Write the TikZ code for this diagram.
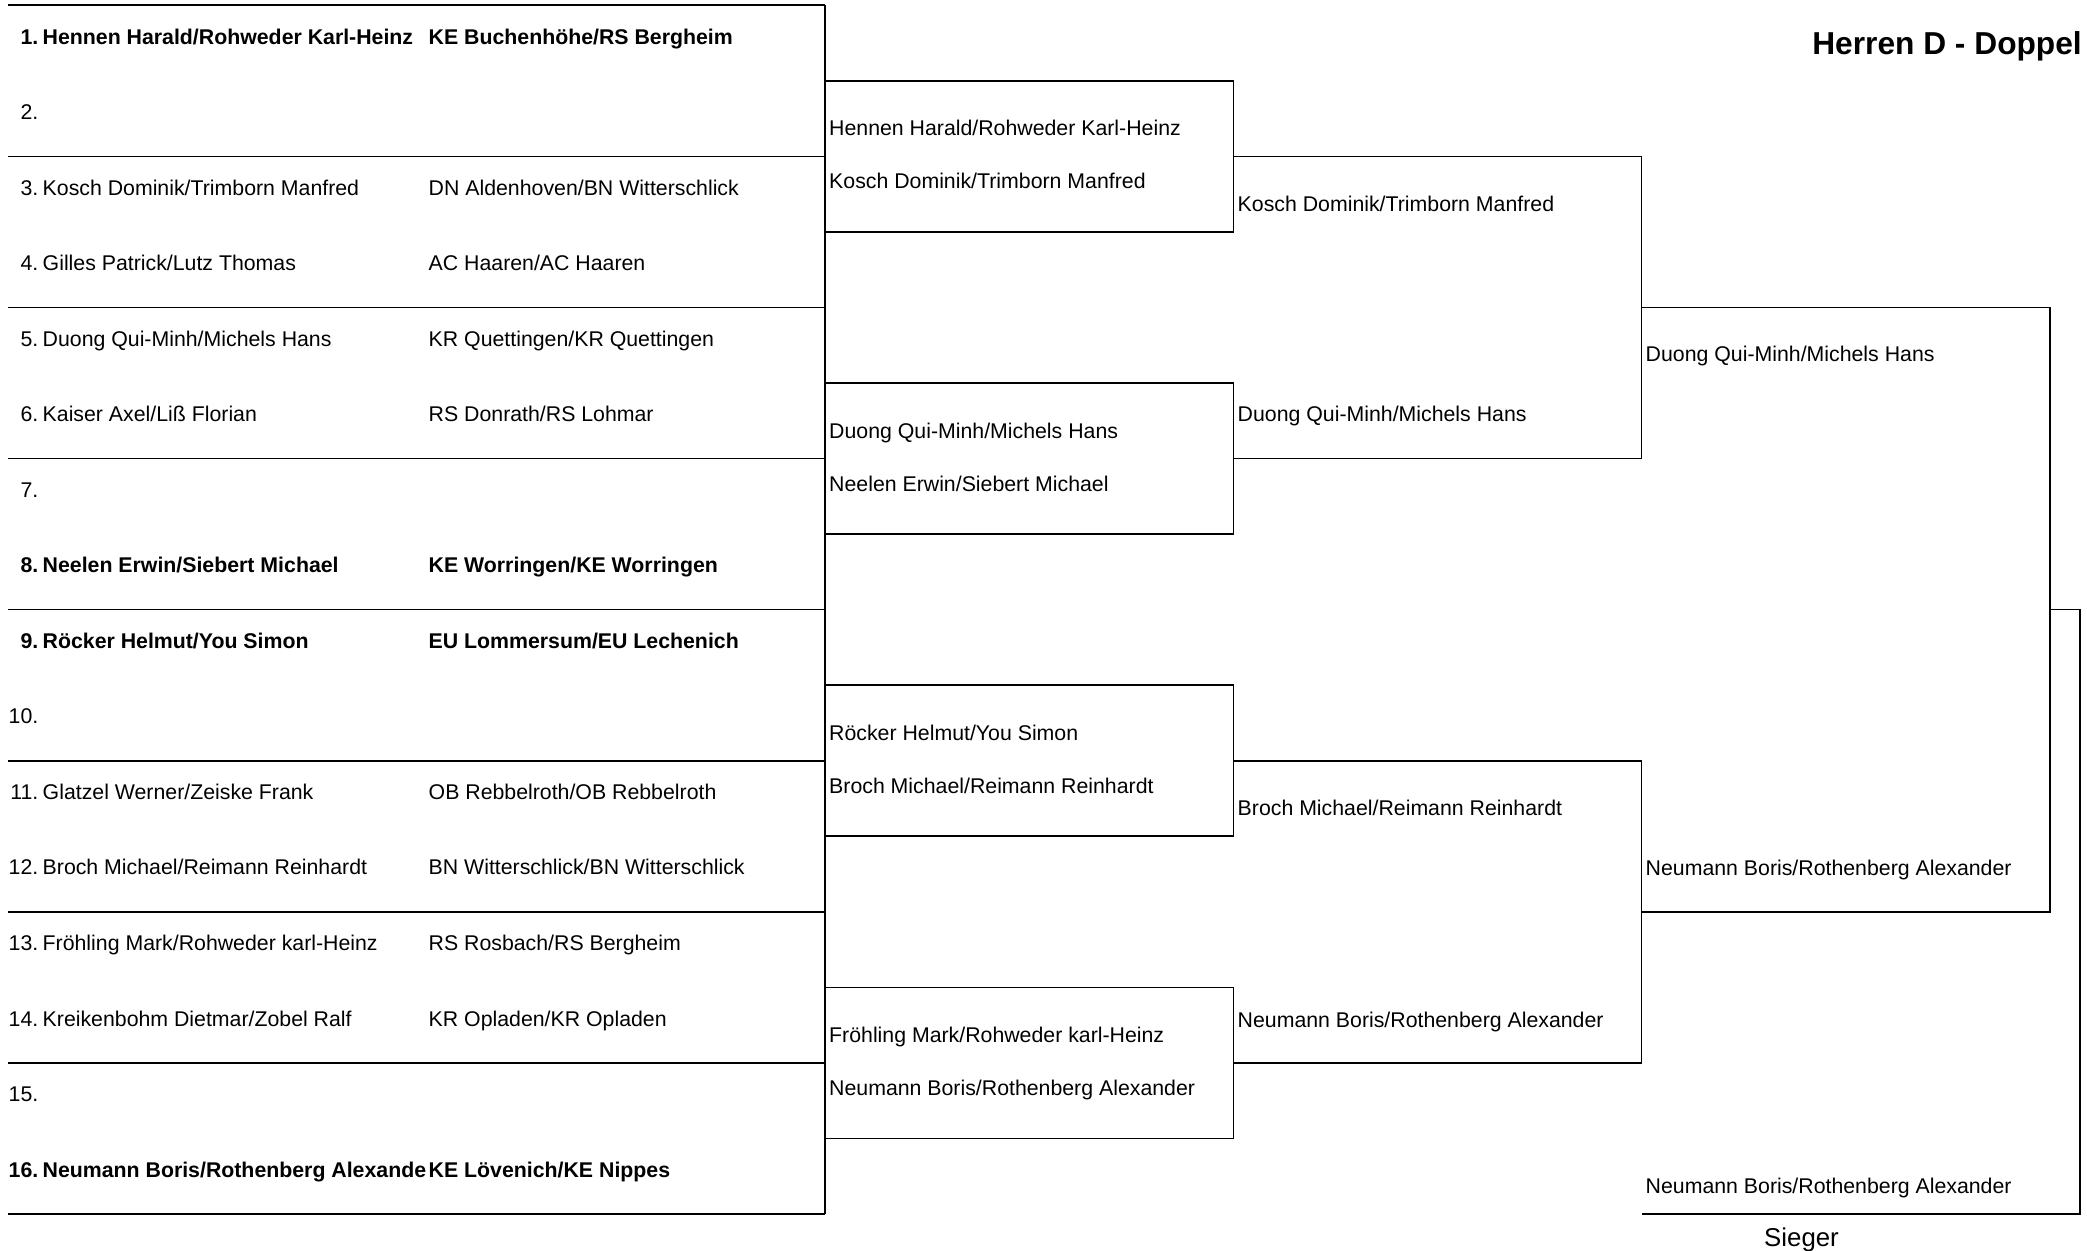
\documentclass[tikz,border=0pt]{standalone}
\usepackage{fontspec}
\setmainfont{Liberation Sans}
\begin{document}
\begin{tikzpicture}[x=1pt,y=-1pt,
  rule/.style={line width=1.7pt,black},
  txt/.style={anchor=base west,inner sep=0pt,font=\fontsize{21.3}{25}\selectfont},
  txtb/.style={txt,font=\fontsize{21.3}{25}\selectfont\bfseries},
  num/.style={anchor=base east,inner sep=0pt,font=\fontsize{21.3}{25}\selectfont},
  numb/.style={num,font=\fontsize{21.3}{25}\selectfont\bfseries}]
\useasboundingbox (0,0) rectangle (2087,1250);

% ---------- round 1 grid ----------
\foreach \i in {0,...,8}{
  \draw[rule] (7.5,{5.3+151.08*\i}) -- (825,{5.3+151.08*\i});
}
\draw[rule] (825,5.3) -- (825,1213.9);

% ---------- round 2 boxes ----------
\foreach \t in {80.9,383.0,685.2,987.4}{
  \draw[rule] (825,\t) rectangle (1233.5,\t+151.08);
}
% ---------- round 3 (open on the left) ----------
\draw[rule] (1233.5,156.4) -- (1641.5,156.4) -- (1641.5,458.5) -- (1233.5,458.5);
\draw[rule] (1233.5,760.7) -- (1641.5,760.7) -- (1641.5,1062.9) -- (1233.5,1062.9);
% ---------- round 4 (open on the left) ----------
\draw[rule] (1641.5,307.5) -- (2050,307.5) -- (2050,911.8) -- (1641.5,911.8);
% ---------- final ----------
\coordinate (f1) at (2050,609.6);
\coordinate (f2) at (2080,609.6);
\coordinate (f3) at (2080,1213.9);
\coordinate (f4) at (1641.5,1213.9);
\draw[rule] (f1) -- (f2) -- (f3) -- (f4);

% ---------- title ----------
\node[anchor=base east,inner sep=0pt,font=\fontsize{31.7}{36}\selectfont\bfseries] (title) at (2082,54.3) {Herren D - Doppel};

% ---------- round 1 entries ----------
\node[numb] (n1) at (38.5,44.0) {1.};
\node[txtb] (p1) at (42.5,44.0) {Hennen Harald/Rohweder Karl-Heinz};
\node[txtb] (c1) at (428.5,44.0) {KE Buchenhöhe/RS Bergheim};
\node[num] (n2) at (38.5,119.5) {2.};
\node[num] (n3) at (38.5,195.1) {3.};
\node[txt] (p3) at (42.5,195.1) {Kosch Dominik/Trimborn Manfred};
\node[txt] (c3) at (428.5,195.1) {DN Aldenhoven/BN Witterschlick};
\node[num] (n4) at (38.5,270.6) {4.};
\node[txt] (p4) at (42.5,270.6) {Gilles Patrick/Lutz Thomas};
\node[txt] (c4) at (428.5,270.6) {AC Haaren/AC Haaren};
\node[num] (n5) at (38.5,346.2) {5.};
\node[txt] (p5) at (42.5,346.2) {Duong Qui-Minh/Michels Hans};
\node[txt] (c5) at (428.5,346.2) {KR Quettingen/KR Quettingen};
\node[num] (n6) at (38.5,421.7) {6.};
\node[txt] (p6) at (42.5,421.7) {Kaiser Axel/Liß Florian};
\node[txt] (c6) at (428.5,421.7) {RS Donrath/RS Lohmar};
\node[num] (n7) at (38.5,497.2) {7.};
\node[numb] (n8) at (38.5,572.8) {8.};
\node[txtb] (p8) at (42.5,572.8) {Neelen Erwin/Siebert Michael};
\node[txtb] (c8) at (428.5,572.8) {KE Worringen/KE Worringen};
\node[numb] (n9) at (38.5,648.3) {9.};
\node[txtb] (p9) at (42.5,648.3) {Röcker Helmut/You Simon};
\node[txtb] (c9) at (428.5,648.3) {EU Lommersum/EU Lechenich};
\node[num] (n10) at (38.5,723.9) {10.};
\node[num] (n11) at (38.5,799.4) {11.};
\node[txt] (p11) at (42.5,799.4) {Glatzel Werner/Zeiske Frank};
\node[txt] (c11) at (428.5,799.4) {OB Rebbelroth/OB Rebbelroth};
\node[num] (n12) at (38.5,874.9) {12.};
\node[txt] (p12) at (42.5,874.9) {Broch Michael/Reimann Reinhardt};
\node[txt] (c12) at (428.5,874.9) {BN Witterschlick/BN Witterschlick};
\node[num] (n13) at (38.5,950.5) {13.};
\node[txt] (p13) at (42.5,950.5) {Fröhling Mark/Rohweder karl-Heinz};
\node[txt] (c13) at (428.5,950.5) {RS Rosbach/RS Bergheim};
\node[num] (n14) at (38.5,1026.0) {14.};
\node[txt] (p14) at (42.5,1026.0) {Kreikenbohm Dietmar/Zobel Ralf};
\node[txt] (c14) at (428.5,1026.0) {KR Opladen/KR Opladen};
\node[num] (n15) at (38.5,1101.6) {15.};
\node[numb] (n16) at (38.5,1177.1) {16.};
\node[txtb] (p16) at (42.5,1177.1) {Neumann Boris/Rothenberg Alexande};
\node[txtb] (c16) at (428.5,1177.1) {KE Lövenich/KE Nippes};

% ---------- round 2 ----------
\node[txt] (r2a) at (829,135.9) {Hennen Harald/Rohweder Karl-Heinz};
\node[txt] (r2b) at (829,188.9) {Kosch Dominik/Trimborn Manfred};
\node[txt] (r2c) at (829,438.0) {Duong Qui-Minh/Michels Hans};
\node[txt] (r2d) at (829,491.0) {Neelen Erwin/Siebert Michael};
\node[txt] (r2e) at (829,740.2) {Röcker Helmut/You Simon};
\node[txt] (r2f) at (829,793.2) {Broch Michael/Reimann Reinhardt};
\node[txt] (r2g) at (829,1042.4) {Fröhling Mark/Rohweder karl-Heinz};
\node[txt] (r2h) at (829,1095.4) {Neumann Boris/Rothenberg Alexander};

% ---------- round 3 ----------
\node[txt] (r3a) at (1237.5,211.0) {Kosch Dominik/Trimborn Manfred};
\node[txt] (r3b) at (1237.5,421.5) {Duong Qui-Minh/Michels Hans};
\node[txt] (r3c) at (1237.5,815.0) {Broch Michael/Reimann Reinhardt};
\node[txt] (r3d) at (1237.5,1027.0) {Neumann Boris/Rothenberg Alexander};

% ---------- round 4 ----------
\node[txt] (r4a) at (1645.5,361.5) {Duong Qui-Minh/Michels Hans};
\node[txt] (r4b) at (1645.5,875.0) {Neumann Boris/Rothenberg Alexander};

% ---------- winner ----------
\node[txt] (win) at (1645.5,1193.0) {Neumann Boris/Rothenberg Alexander};
\node[anchor=base west,inner sep=0pt,font=\fontsize{25.8}{30}\selectfont] (sieger) at (1764,1246) {Sieger};
\end{tikzpicture}
\end{document}
